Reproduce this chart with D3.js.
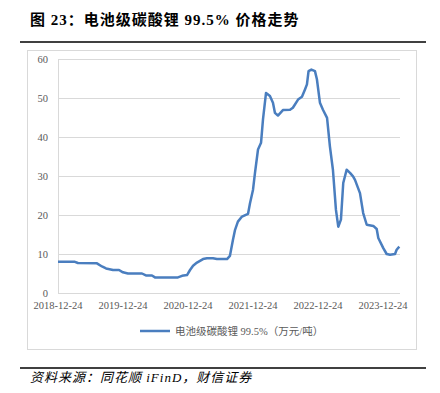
<!DOCTYPE html>
<html>
<head>
  <meta charset="utf-8">
  <title>电池级碳酸锂价格走势</title>
  <style>
    body { margin: 0; background: #fff; }
    .tick-label { font-family: "Liberation Serif", "Noto Sans CJK SC", serif; font-size: 10.5px; fill: #595959; }
  </style>
</head>
<body>
  <svg width="440" height="393"></svg>
  <script src="https://cdnjs.cloudflare.com/ajax/libs/d3/7.8.5/d3.min.js"></script>
  <script>
    // 数据（万元/吨）
    const dates = ["2018-12-24","2019-03-29","2019-04-15","2019-07-31","2019-08-28","2019-09-20","2019-10-29","2019-12-02","2019-12-24","2020-01-21","2020-04-09","2020-05-01","2020-06-04","2020-06-21","2020-10-28","2020-11-20","2020-12-18","2021-01-04","2021-01-21","2021-02-12","2021-03-18","2021-04-09","2021-05-13","2021-06-04","2021-07-31","2021-08-16","2021-09-02","2021-09-14","2021-09-30","2021-10-23","2021-11-26","2021-12-07","2021-12-24","2022-01-04","2022-01-21","2022-02-07","2022-02-18","2022-03-07","2022-03-29","2022-04-15","2022-04-26","2022-05-13","2022-06-10","2022-07-20","2022-08-05","2022-09-03","2022-09-25","2022-10-12","2022-10-23","2022-11-01","2022-11-17","2022-12-07","2022-12-18","2023-01-04","2023-01-21","2023-02-13","2023-03-01","2023-03-18","2023-04-04","2023-04-17","2023-05-02","2023-05-15","2023-06-03","2023-06-22","2023-07-09","2023-07-20","2023-08-17","2023-09-04","2023-09-24","2023-10-31","2023-11-19","2023-11-28","2023-12-26","2024-01-14","2024-02-02","2024-03-01","2024-03-10","2024-03-25"];
    const prices = [8.0,8.0,7.7,7.6,6.8,6.3,5.9,5.9,5.3,5.0,5.0,4.5,4.5,4.0,4.0,4.4,4.6,5.9,7.0,7.8,8.7,8.9,8.9,8.7,8.7,9.5,13.6,16.2,18.3,19.6,20.3,23.0,26.5,30.8,36.8,38.5,44.5,51.3,50.5,48.8,46.2,45.5,46.9,47.0,47.5,49.6,50.3,52.2,53.5,56.9,57.3,56.9,54.8,48.8,47.0,44.9,37.6,31.6,21.3,17.0,18.8,28.2,31.6,30.8,29.9,29.0,25.6,20.5,17.5,17.2,16.4,14.1,11.5,10.0,9.8,10.0,11.1,11.9];
    const xTickLabels = ["2018-12-24","2019-12-24","2020-12-24","2021-12-24","2022-12-24","2023-12-24"];
    const yTicks = [0, 10, 20, 30, 40, 50, 60];
    const seriesName = "电池级碳酸锂 99.5%（万元/吨）";

    const parse = d3.timeParse("%Y-%m-%d");
    const data = dates.map((d, i) => ({date: parse(d), value: prices[i]}));

    const svg = d3.select("svg");

    // 标题
    svg.append("text")
       .attr("x", 30).attr("y", 25)
       .attr("font-family", '"Liberation Serif", "Noto Sans CJK SC", serif')
       .attr("font-weight", "bold")
       .attr("font-size", 15)
       .attr("letter-spacing", 1)
       .attr("fill", "#000")
       .text("图 23：电池级碳酸锂 99.5% 价格走势");
    svg.append("line").attr("x1", 20).attr("x2", 426).attr("y1", 42).attr("y2", 42)
       .attr("stroke", "#000").attr("stroke-width", 1.5);

    // 图表外框
    svg.append("rect").attr("x", 27.5).attr("y", 50.5).attr("width", 389).attr("height", 299)
       .attr("fill", "none").attr("stroke", "#d9d9d9");

    const margin = {left: 58, right: 400, top: 59, bottom: 293};
    const x = d3.scaleTime()
                .domain([parse("2018-12-24"), parse("2024-03-25")])
                .range([margin.left, 399.3]);
    const y = d3.scaleLinear().domain([0, 60]).range([margin.bottom, margin.top]);

    // 网格线
    svg.append("g").selectAll("line")
       .data(yTicks.filter(d => d > 0))
       .enter().append("line")
       .attr("x1", margin.left).attr("x2", margin.right)
       .attr("y1", d => Math.round(y(d)) + 0.5).attr("y2", d => Math.round(y(d)) + 0.5)
       .attr("stroke", "#d9d9d9");

    // 坐标轴线
    svg.append("line").attr("x1", margin.left + 0.5).attr("x2", margin.left + 0.5)
       .attr("y1", margin.top).attr("y2", margin.bottom)
       .attr("stroke", "#d9d9d9");
    svg.append("line").attr("x1", margin.left).attr("x2", margin.right)
       .attr("y1", margin.bottom + 0.5).attr("y2", margin.bottom + 0.5)
       .attr("stroke", "#d9d9d9");

    // Y 轴标签
    svg.append("g").selectAll("text")
       .data(yTicks)
       .enter().append("text")
       .attr("class", "tick-label")
       .attr("x", 48).attr("y", d => y(d) + 3.5)
       .attr("text-anchor", "end")
       .text(d => d);

    // X 轴标签
    svg.append("g").selectAll("text")
       .data(xTickLabels)
       .enter().append("text")
       .attr("class", "tick-label")
       .attr("x", d => x(parse(d))).attr("y", 309)
       .attr("text-anchor", "middle")
       .text(d => d);

    // 折线
    const line = d3.line().x(d => x(d.date)).y(d => y(d.value)).curve(d3.curveLinear);
    svg.append("path").datum(data)
       .attr("d", line)
       .attr("fill", "none")
       .attr("stroke", "#4a7ebf")
       .attr("stroke-width", 2.5)
       .attr("stroke-linejoin", "round");

    // 图例
    svg.append("line").attr("x1", 140).attr("x2", 170).attr("y1", 331).attr("y2", 331)
       .attr("stroke", "#4a7ebf").attr("stroke-width", 2.5);
    svg.append("text")
       .attr("x", 175).attr("y", 335)
       .attr("font-family", '"Liberation Serif", "Noto Sans CJK SC", serif')
       .attr("font-size", 10.5).attr("fill", "#595959")
       .text(seriesName);

    // 资料来源
    svg.append("line").attr("x1", 20).attr("x2", 426).attr("y1", 368).attr("y2", 368)
       .attr("stroke", "#000").attr("stroke-width", 1.5);
    svg.append("text")
       .attr("x", 30).attr("y", 382)
       .attr("font-family", '"Liberation Serif", "Noto Sans CJK SC", serif')
       .attr("font-style", "italic")
       .attr("font-size", 13)
       .attr("letter-spacing", 1)
       .attr("fill", "#000")
       .text("资料来源：同花顺 iFinD，财信证券");
  </script>
</body>
</html>
